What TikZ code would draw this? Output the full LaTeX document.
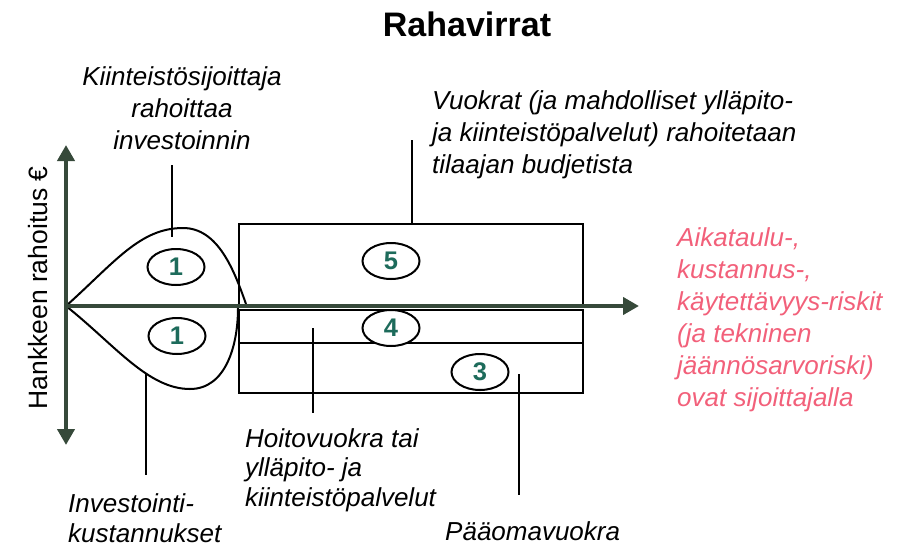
\documentclass[tikz,border=0pt]{standalone}
\usepackage{fontspec}
\setmainfont{Liberation Sans}
\usetikzlibrary{arrows.meta,shapes.geometric}
\definecolor{axisgreen}{HTML}{36493A}
\definecolor{numgreen}{HTML}{1D6B5B}
\definecolor{riskred}{HTML}{F2607A}
\begin{document}
\begin{tikzpicture}[x=1pt,y=-1pt,
  lbl/.style={font=\fontsize{26}{32}\selectfont\itshape, inner sep=0pt, align=left},
  numell/.style={ellipse, draw, line width=2pt, fill=white, minimum width=57pt, minimum height=36pt, inner sep=0pt, font=\fontsize{25.5}{30}\selectfont\bfseries, text=numgreen},
  boxline/.style={line width=2.7pt},
  dropline/.style={line width=2pt},
  conn/.style={line width=1.7pt},
  axisline/.style={line width=4.5pt, draw=axisgreen},
  axtip/.tip={Triangle[width=17pt,length=16pt]}]
\useasboundingbox (0,0) rectangle (917,549);
% title
\node[font=\fontsize{34}{40}\selectfont\bfseries, anchor=base, inner sep=0pt] (title) at (467,36) {Rahavirrat};
% boxes
\draw[boxline] (239,306) -- (239,224) -- (583,224) -- (583,306);
\draw[boxline] (239,310) rectangle (583,393);
\draw[boxline] (239,343) -- (583,343);
% drop shapes
\draw[dropline] (66,306) .. controls (115,262) and (140,228) .. (183,228) .. controls (218,228) and (234,270) .. (246,304);
\draw[dropline] (66,306) .. controls (115,345) and (148,389) .. (190,389) .. controls (226,389) and (238,345) .. (238,308);
% axes
\draw[axisline, -axtip] (66,306) -- (639,306);
\draw[axisline, axtip-axtip] (66,445) -- (66,145);
% numbered ellipses
\node[numell] (e1a) at (176,267) {1};
\node[numell] (e1b) at (177,336) {1};
\node[numell] (e5) at (391,261) {5};
\node[numell] (e4) at (391,328) {4};
\node[numell] (e3) at (480,372) {3};
% axis label
\node[font=\fontsize{26.5}{32}\selectfont, rotate=90, inner sep=0pt] (ylab) at (38,288) {Hankkeen rahoitus €};
% labels
\node[lbl, align=center, anchor=north] (kiin) at (182,66) {Kiinteistösijoittaja\\rahoittaa\\investoinnin};
\node[lbl, anchor=north west] (vuok) at (432,90) {Vuokrat (ja mahdolliset ylläpito-\\ja kiinteistöpalvelut) rahoitetaan\\tilaajan budjetista};
\node[lbl, text=riskred, anchor=north west] (risk) at (677,227) {Aikataulu-,\\kustannus-,\\käytettävyys-riskit\\(ja tekninen\\jäännösarvoriski)\\ovat sijoittajalla};
\node[lbl, font=\fontsize{26}{29.5}\selectfont\itshape, anchor=north west] (hoito) at (245,428) {Hoitovuokra tai\\ylläpito- ja\\kiinteistöpalvelut};
\node[lbl, font=\fontsize{26}{30}\selectfont\itshape, anchor=north west] (inv) at (68,493) {Investointi-\\kustannukset};
\node[lbl, anchor=base west] (paa) at (445,540) {Pääomavuokra};
% connector coordinates
\coordinate (kiinA) at (172,165); \coordinate (kiinB) at (172,237);
\coordinate (vuokA) at (412,140); \coordinate (vuokB) at (412,224);
\coordinate (hoitoA) at (313,328); \coordinate (hoitoB) at (313,413);
\coordinate (invA) at (146,373); \coordinate (invB) at (146,475);
\coordinate (paaA) at (519,374); \coordinate (paaB) at (519,495);
\draw[conn] (kiinA) -- (kiinB);
\draw[conn] (vuokA) -- (vuokB);
\draw[conn] (hoitoA) -- (hoitoB);
\draw[conn] (invA) -- (invB);
\draw[conn] (paaA) -- (paaB);
\end{tikzpicture}
\end{document}
